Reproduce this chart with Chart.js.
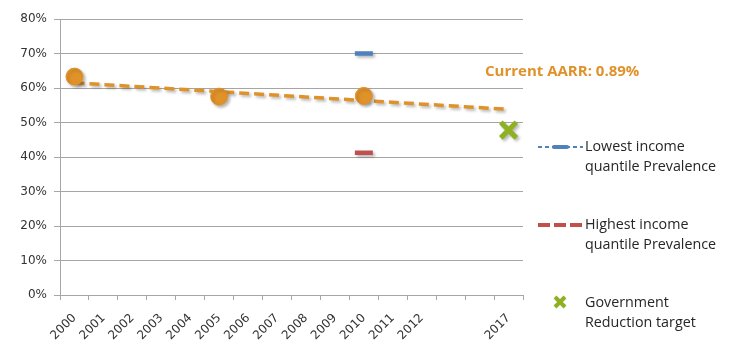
<!DOCTYPE html>
<html lang="en">
<head>
<meta charset="UTF-8">
<title>Prevalence chart</title>
<style>
  body { margin: 0; background: #fff; }
</style>
</head>
<body>
<canvas id="chart" width="735" height="340"></canvas>
<script src="https://cdn.jsdelivr.net/npm/chart.js@4.4.1/dist/chart.umd.min.js"></script>
<script>
// categories - the two blank slots keep the gap before 2017
var years = ['2000','2001','2002','2003','2004','2005','2006','2007','2008','2009','2010','2011','2012','','','2017']

// values in %
var prevalence = [63.3, null, null, null, null, 57.5, null, null, null, null, 57.7, null, null, null, null, null]
var lowestQuintile = [null, null, null, null, null, null, null, null, null, null, 70, null, null, null, null, null]
var highestQuintile = [null, null, null, null, null, null, null, null, null, null, 41.2, null, null, null, null, null]
var govTarget = [null, null, null, null, null, null, null, null, null, null, null, null, null, null, null, 47.8]
var trend = [61.5, null, null, null, null, null, null, null, null, null, null, null, null, null, null, 53.8]

var yMax = 80
var yStep = 10
var aarrLabel = 'Current AARR: 0.89%'
var legendLabels = [
    ['Lowest income', 'quantile Prevalence'],
    ['Highest income', 'quantile Prevalence'],
    ['Government', 'Reduction target']
]

var orange = '#E0922A'
var blue = '#4F81BD'
var red = '#C0504D'
var green = '#8FB021'
var grid = '#A6A6A6'

// shadow under marks, text label and right-hand legend
var extras = {
    id: 'extras',
    beforeDatasetDraw: function(chart) {
        var ctx = chart.ctx
        ctx.save()
        ctx.shadowColor = 'rgba(0,0,0,0.28)'
        ctx.shadowBlur = 3
        ctx.shadowOffsetX = 2
        ctx.shadowOffsetY = 2
    },
    afterDatasetDraw: function(chart) {
        chart.ctx.restore()
    },
    afterDraw: function(chart) {
        var ctx = chart.ctx
        ctx.save()
        ctx.fillStyle = orange
        ctx.font = 'bold 15px "Open Sans"'
        ctx.textBaseline = 'middle'
        ctx.fillText(aarrLabel, 485, 72)

        // legend symbols
        var sx = 538, ex = 583
        ctx.lineCap = 'butt'
        ctx.strokeStyle = blue
        ctx.lineWidth = 2
        ctx.setLineDash([4, 3])
        ctx.beginPath(); ctx.moveTo(sx, 147); ctx.lineTo(ex, 147); ctx.stroke()
        ctx.setLineDash([])
        ctx.lineWidth = 4
        ctx.lineCap = 'round'
        ctx.beginPath(); ctx.moveTo(554, 147); ctx.lineTo(567, 147); ctx.stroke()

        ctx.lineCap = 'butt'
        ctx.strokeStyle = red
        ctx.lineWidth = 4
        ctx.setLineDash([12, 4])
        ctx.beginPath(); ctx.moveTo(sx, 225); ctx.lineTo(ex, 225); ctx.stroke()
        ctx.setLineDash([])

        ctx.strokeStyle = green
        ctx.lineWidth = 4
        ctx.beginPath()
        ctx.moveTo(555, 297); ctx.lineTo(565, 307)
        ctx.moveTo(565, 297); ctx.lineTo(555, 307)
        ctx.stroke()

        ctx.fillStyle = '#262626'
        ctx.font = '14.3px "Open Sans"'
        var ys = [147, 225, 303]
        legendLabels.forEach(function(lines, i) {
            lines.forEach(function(t, j) {
                ctx.fillText(t, 585, ys[i] + j * 20)
            })
        })
        ctx.restore()
    }
}

var ctx = document.getElementById('chart')
var chart = new Chart(ctx, {
    type: 'line',
    data: {
        labels: years,
        datasets: [
            {
                label: 'Prevalence',
                data: prevalence,
                showLine: false,
                pointStyle: 'circle',
                pointRadius: 8.5,
                pointBackgroundColor: orange,
                pointBorderColor: orange,
                pointBorderWidth: 1
            },
            {
                label: 'Trend',
                data: trend,
                spanGaps: true,
                borderColor: orange,
                borderWidth: 3.5,
                borderDash: [10, 5],
                pointRadius: 0
            },
            {
                label: 'Lowest income quantile Prevalence',
                data: lowestQuintile,
                showLine: false,
                pointStyle: 'line',
                pointRadius: 9,
                pointBorderWidth: 4.5,
                pointBorderColor: blue,
                pointBackgroundColor: blue
            },
            {
                label: 'Highest income quantile Prevalence',
                data: highestQuintile,
                showLine: false,
                pointStyle: 'line',
                pointRadius: 9,
                pointBorderWidth: 4.5,
                pointBorderColor: red,
                pointBackgroundColor: red
            },
            {
                label: 'Government Reduction target',
                data: govTarget,
                showLine: false,
                pointStyle: 'crossRot',
                pointRadius: 11,
                pointBorderWidth: 5,
                pointBorderColor: green,
                pointBackgroundColor: green
            }
        ]
    },
    options: {
        responsive: false,
        animation: false,
        events: [],
        layout: { padding: { top: 19, right: 212, left: 0, bottom: 0 } },
        plugins: {
            legend: { display: false },
            tooltip: { enabled: false }
        },
        scales: {
            x: {
                offset: true,
                grid: { offset: true, drawOnChartArea: false, tickLength: 5, color: grid },
                border: { color: grid },
                ticks: {
                    autoSkip: false,
                    minRotation: 45,
                    maxRotation: 45,
                    padding: 11,
                    color: '#333333',
                    font: { family: 'DejaVu Sans', size: 12 }
                },
                afterFit: function(s) { s.height = 45 }
            },
            y: {
                min: 0,
                max: yMax,
                grid: { color: grid, tickLength: 6 },
                border: { color: grid },
                ticks: {
                    stepSize: yStep,
                    padding: 7,
                    color: '#333333',
                    font: { family: 'DejaVu Sans', size: 12 },
                    callback: function(v) { return v + '%' }
                },
                afterFit: function(s) { s.width = 60 }
            }
        }
    },
    plugins: [extras]
})
</script>
</body>
</html>
